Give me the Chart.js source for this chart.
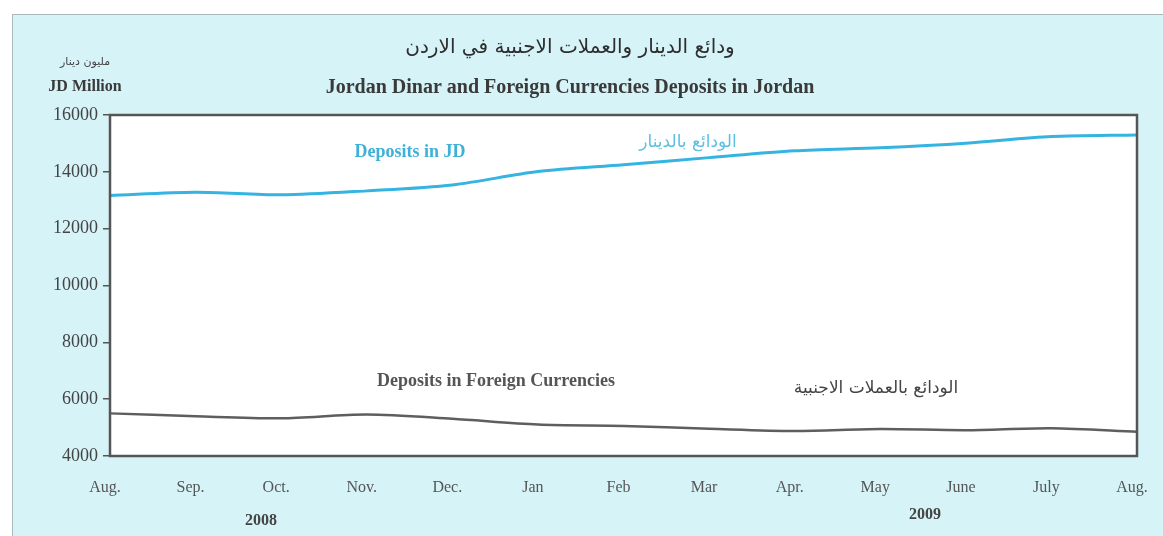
<!DOCTYPE html>
<html>
<head>
<meta charset="utf-8">
<script src="https://cdn.jsdelivr.net/npm/chart.js@4.4.1/dist/chart.umd.min.js"></script>
<style>
  html, body { margin: 0; padding: 0; background: #ffffff; }
  #wrap { position: relative; width: 1163px; height: 536px; overflow: hidden; }
  #bg { position: absolute; left: 12px; top: 14px; width: 1170px; height: 540px;
        background: #d6f3f8; border-left: 1px solid #a9b9bc; border-top: 1px solid #a9b9bc; }
  canvas { position: absolute; left: 0; top: 0; }
</style>
</head>
<body>
<div id="wrap">
  <div id="bg"></div>
  <canvas id="c" width="1163" height="536"></canvas>
</div>
<script>
const months = ["Aug.", "Sep.", "Oct.", "Nov.", "Dec.", "Jan", "Feb", "Mar", "Apr.", "May", "June", "July", "Aug."];
const depositsJD = [13170, 13285, 13190, 13330, 13540, 14010, 14250, 14500, 14740, 14850, 15010, 15240, 15300];
const depositsForeign = [5500, 5400, 5330, 5460, 5310, 5110, 5060, 4960, 4880, 4950, 4910, 4980, 4855];
const yTicks = [4000, 6000, 8000, 10000, 12000, 14000, 16000];
const yearLabels = ["2008", "2009"];

const serif = "'Liberation Serif', 'Times New Roman', serif";
const arabic = "'DejaVu Sans', sans-serif";

const decor = {
  id: 'decor',
  beforeDraw(chart) {
    const { ctx, chartArea: a } = chart;
    ctx.save();
    ctx.fillStyle = '#ffffff';
    ctx.fillRect(a.left, a.top, a.right - a.left, a.bottom - a.top);
    ctx.restore();
  },
  afterDatasetsDraw(chart) {
    const { ctx, chartArea: a } = chart;
    ctx.save();
    ctx.strokeStyle = '#555555';
    ctx.lineWidth = 2.5;
    ctx.strokeRect(a.left, a.top, a.right - a.left, a.bottom - a.top);
    ctx.restore();
  },
  afterDraw(chart) {
    const { ctx } = chart;
    const t = (txt, x, y, font, color) => {
      ctx.font = font; ctx.fillStyle = color;
      ctx.textAlign = 'center'; ctx.textBaseline = 'middle';
      ctx.fillText(txt, x, y);
    };
    ctx.save();
    t('ودائع الدينار والعملات الاجنبية في الاردن', 570, 48, '20px ' + arabic, '#2e2e2e');
    t('Jordan Dinar and Foreign Currencies Deposits in Jordan', 570, 88, 'bold 20px ' + serif, '#3a3a3a');
    t('مليون دينار', 85, 62, '11px ' + arabic, '#444444');
    t('JD Million', 85, 87, 'bold 16px ' + serif, '#3a3a3a');
    t('Deposits in JD', 410, 152, 'bold 18px ' + serif, '#3fb1d8');
    t('الودائع بالدينار', 688, 143, '17px ' + arabic, '#5cc0e0');
    t('Deposits in Foreign Currencies', 496, 381, 'bold 18px ' + serif, '#555555');
    t('الودائع بالعملات الاجنبية', 876, 389, '17px ' + arabic, '#444444');
    t(yearLabels[0], 261, 521, 'bold 16px ' + serif, '#444444');
    t(yearLabels[1], 925, 515, 'bold 16px ' + serif, '#444444');
    ctx.restore();
  }
};

new Chart(document.getElementById('c'), {
  type: 'line',
  data: {
    labels: months,
    datasets: [
      { label: 'Deposits in JD', data: depositsJD, borderColor: '#35b4e2', borderWidth: 3,
        pointRadius: 0, tension: 0.3, fill: false },
      { label: 'Deposits in Foreign Currencies', data: depositsForeign, borderColor: '#5e5e5e', borderWidth: 2.5,
        pointRadius: 0, tension: 0.3, fill: false }
    ]
  },
  options: {
    responsive: false,
    animation: false,
    events: [],
    layout: { padding: { top: 115, right: 26, left: 0, bottom: 0 } },
    plugins: { legend: { display: false }, title: { display: false }, tooltip: { enabled: false } },
    scales: {
      x: {
        offset: false,
        grid: { display: false },
        border: { display: false },
        ticks: { autoSkip: false, maxRotation: 0, padding: 14, labelOffset: -5,
                 color: '#555555', font: { family: serif, size: 16 } },
        afterFit: s => { s.height = 80; s.paddingLeft = 0; s.paddingRight = 0; }
      },
      y: {
        min: 4000, max: 16000,
        afterBuildTicks: s => { s.ticks = yTicks.map(v => ({ value: v })); },
        grid: { drawOnChartArea: false, tickLength: 7, color: '#555555', lineWidth: 1.5 },
        border: { display: false },
        ticks: { padding: 5, color: '#444444', font: { family: serif, size: 18 },
                 callback: v => String(v) },
        afterFit: s => { s.width = 110; s.paddingTop = 0; s.paddingBottom = 0; }
      }
    }
  },
  plugins: [decor]
});
</script>
</body>
</html>
